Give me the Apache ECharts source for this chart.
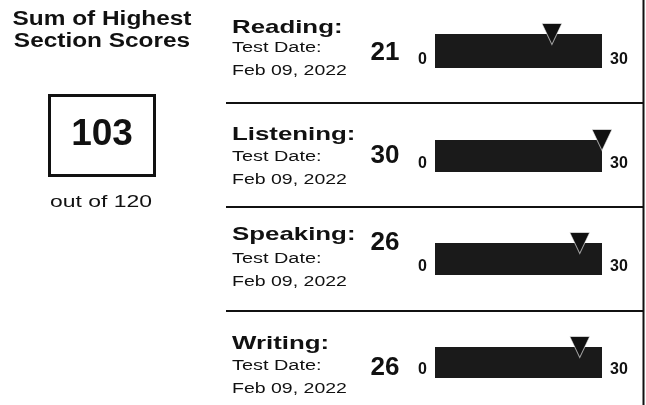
<!DOCTYPE html>
<html>
<head>
<meta charset="utf-8">
<script src="https://cdn.jsdelivr.net/npm/echarts@6/dist/echarts.min.js"></script>
<style>
html, body { margin: 0; padding: 0; background: #fff; }
#score_report { width: 646px; height: 405px; }
</style>
</head>
<body>
<div id="score_report"></div>
<script>
var sections = ['Reading:', 'Listening:', 'Speaking:', 'Writing:'];
var scores = [21, 30, 26, 26];
var testDates = ['Feb 09, 2022', 'Feb 09, 2022', 'Feb 09, 2022', 'Feb 09, 2022'];
var dateLabel = 'Test Date:';
var scaleTicks = [0, 30];
var totalTitle = ['Sum of Highest', 'Section Scores'];

var scaleMax = scaleTicks[scaleTicks.length - 1];
var total = scores.reduce(function (a, b) { return a + b; }, 0);
var totalMax = scaleMax * sections.length;

// row layout, px
var barTop = [34, 140, 243, 347];
var barHeight = [34, 32, 32, 31];
var nameY = [28, 135, 235, 343.5];
var labelY = [48, 157.5, 259, 366];
var dateY = [71, 179.5, 282, 388.5];
var scoreY = [52.5, 156, 242.5, 367.5];
var ruleY = [103, 207, 311];

var FONT = '"Liberation Sans", Arial, sans-serif';
var INK = '#111';

function txt(x, y, text, size, weight, sx, align) {
    return {
        type: 'text',
        x: x,
        y: y,
        scaleX: sx || 1,
        silent: true,
        style: {
            text: text,
            x: 0,
            y: 0,
            fill: INK,
            font: weight + ' ' + size + 'px ' + FONT,
            textAlign: align || 'left',
            textVerticalAlign: 'middle',
            align: align || 'left',
            verticalAlign: 'middle'
        }
    };
}

var grids = [], xAxes = [], yAxes = [], series = [];
var graphics = [];

sections.forEach(function (name, i) {
    grids.push({left: 435, width: 167, top: barTop[i], height: barHeight[i]});
    xAxes.push({
        type: 'value',
        gridIndex: i,
        min: scaleTicks[0],
        max: scaleMax,
        interval: scaleMax,
        axisLine: {show: false},
        axisTick: {show: false},
        splitLine: {show: false},
        axisLabel: {
            show: true,
            margin: -16,
            color: INK,
            fontSize: 16,
            fontWeight: 'bold',
            fontFamily: FONT,
            alignMinLabel: 'right',
            alignMaxLabel: 'left',
            padding: [0, 8, 0, 8]
        }
    });
    yAxes.push({type: 'category', gridIndex: i, data: [name], show: false});
    series.push({
        type: 'bar',
        xAxisIndex: i,
        yAxisIndex: i,
        data: [scaleMax],
        barWidth: '100%',
        silent: true,
        itemStyle: {color: '#1a1a1a'},
        z: 2
    });
    series.push({
        type: 'scatter',
        xAxisIndex: i,
        yAxisIndex: i,
        data: [[scores[i], 0]],
        symbol: 'triangle',
        symbolRotate: 180,
        symbolSize: [20, 21],
        symbolOffset: [0, -barHeight[i] / 2],
        silent: true,
        itemStyle: {color: INK, opacity: 1, borderColor: 'rgba(255,255,255,0.6)', borderWidth: 1},
        z: 3
    });

    graphics.push(txt(232, nameY[i], name, 19, 'bold', 1.36));
    graphics.push(txt(232, labelY[i], dateLabel, 14, 'normal', 1.42));
    graphics.push(txt(232, dateY[i], testDates[i], 15, 'normal', 1.3));
    graphics.push(txt(385, scoreY[i], String(scores[i]), 26, 'bold', 1, 'center'));
});

// left summary panel
graphics.push(txt(102, 19, totalTitle[0], 20, 'bold', 1.22, 'center'));
graphics.push(txt(102, 41, totalTitle[1], 20, 'bold', 1.22, 'center'));
graphics.push({
    type: 'rect',
    silent: true,
    shape: {x: 49.5, y: 95.5, width: 105, height: 80},
    style: {fill: 'none', stroke: INK, lineWidth: 3}
});
graphics.push(txt(102, 135, String(total), 37, 'bold', 1, 'center'));
graphics.push(txt(101, 202.5, 'out of ' + totalMax, 17, 'normal', 1.35, 'center'));

// row rules and right edge
ruleY.forEach(function (y) {
    graphics.push({
        type: 'line',
        silent: true,
        shape: {x1: 226, y1: y, x2: 643, y2: y},
        style: {stroke: INK, lineWidth: 2}
    });
});
graphics.push({
    type: 'line',
    silent: true,
    shape: {x1: 643.5, y1: 0, x2: 643.5, y2: 405},
    style: {stroke: INK, lineWidth: 2}
});

var chart = echarts.init(document.getElementById('score_report'), null, {renderer: 'canvas'});
var option = {
    animation: false,
    backgroundColor: '#fff',
    grid: grids,
    xAxis: xAxes,
    yAxis: yAxes,
    series: series,
    graphic: graphics
};
chart.setOption(option);
</script>
</body>
</html>
